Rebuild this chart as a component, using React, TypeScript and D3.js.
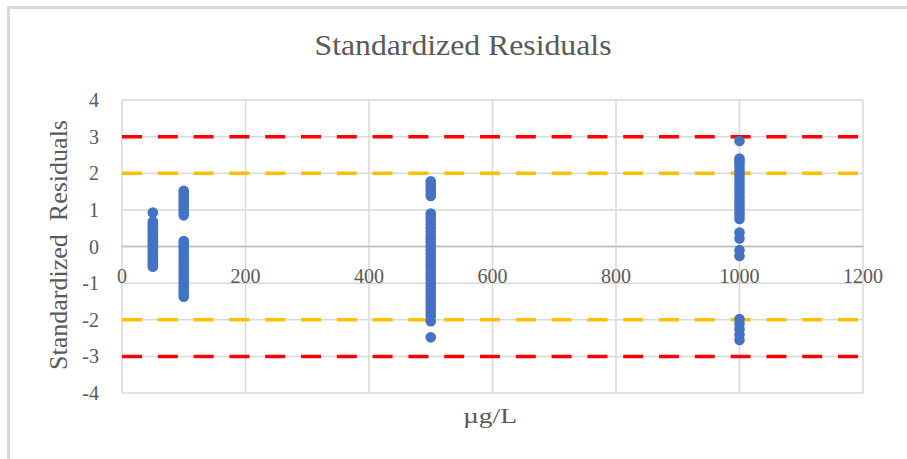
import React from "react";
import * as d3 from "d3";

// concentration levels (µg/L) and their standardized residuals
const levels = [50, 100, 500, 1000];
const res50 = [0.93, 0.68, 0.63, 0.58, 0.52, 0.47, 0.43, 0.37, 0.33, 0.27, 0.21, 0.17, 0.12, 0.06, 0.02, -0.04, -0.08, -0.14, -0.19, -0.23, -0.29, -0.34, -0.38, -0.44, -0.49, -0.55];
const res100 = [1.52, 1.46, 1.38, 1.31, 1.22, 1.16, 1.08, 1.01, 0.93, 0.85, 0.15, 0.08, 0.01, -0.08, -0.16, -0.25, -0.33, -0.41, -0.5, -0.58, -0.67, -0.74, -0.83, -0.91, -0.98, -1.07, -1.14, -1.22, -1.3, -1.37];
const res500 = [1.78, 1.7, 1.62, 1.54, 1.45, 1.38, 0.9, 0.82, 0.72, 0.61, 0.5, 0.41, 0.3, 0.2, 0.1, 0.01, -0.1, -0.2, -0.31, -0.4, -0.5, -0.6, -0.71, -0.8, -0.9, -1.01, -1.1, -1.2, -1.3, -1.4, -1.5, -1.6, -1.7, -1.8, -1.9, -2.04, -2.48];
const res1000 = [2.88, 2.4, 2.33, 2.25, 2.15, 2.05, 1.95, 1.86, 1.75, 1.65, 1.55, 1.46, 1.35, 1.25, 1.15, 1.05, 0.95, 0.86, 0.75, 0.38, 0.22, -0.1, -0.26, -1.98, -2.1, -2.25, -2.4, -2.55];
const residuals = [res50, res100, res500, res1000];

const xTicks = [0, 200, 400, 600, 800, 1000, 1200];
const yTicks = [4, 3, 2, 1, 0, -1, -2, -3, -4];
const limits = [
  {value: 3, color: "#FF0000"},
  {value: 2, color: "#FFC000"},
  {value: -2, color: "#FFC000"},
  {value: -3, color: "#FF0000"},
];

export default function App() {
  const width = 907;
  const height = 459;
  const plot = {left: 122, right: 863, top: 100, bottom: 393};
  const font = "'Liberation Serif', 'Times New Roman', serif";
  const textColor = "#595959";
  const grid = "#d9d9d9";

  const x = d3.scaleLinear().domain([0, 1200]).range([plot.left, plot.right]);
  const y = d3.scaleLinear().domain([-4, 4]).range([plot.bottom, plot.top]);

  const points = levels.flatMap((lvl, i) => residuals[i].map(r => ({lvl, r})));

  return (
    <div style={{position: "absolute", left: 0, top: 0}}>
      <svg width={width} height={height} style={{display: "block", background: "#fff"}}>
        {/* outer chart border (cropped) */}
        <path d={`M8.5,459 L8.5,7.5 L907,7.5`} fill="none" stroke={grid} strokeWidth={3} />

        <text x={463} y={55} textAnchor="middle" fontFamily={font} fontSize={30} fill={textColor}
              textLength={297} lengthAdjust="spacingAndGlyphs">Standardized Residuals</text>

        {/* gridlines */}
        {yTicks.map(t => (
          <line key={"gy" + t} x1={plot.left} x2={plot.right} y1={y(t)} y2={y(t)}
                stroke={t === 0 ? "#bfbfbf" : grid} strokeWidth={1.5} />
        ))}
        {xTicks.map(t => (
          <line key={"gx" + t} x1={x(t)} x2={x(t)} y1={plot.top} y2={plot.bottom}
                stroke={grid} strokeWidth={1.5} />
        ))}
        <line x1={plot.left} x2={plot.right} y1={y(0)} y2={y(0)} stroke="#bfbfbf" strokeWidth={1.5} />

        {/* limit lines */}
        {limits.map(l => (
          <line key={"l" + l.value} x1={x(0)} x2={x(1200) - 4} y1={y(l.value)} y2={y(l.value)}
                stroke={l.color} strokeWidth={3.5} strokeDasharray="20 15.8" />
        ))}

        {/* points */}
        {points.map((p, i) => (
          <circle key={i} cx={x(p.lvl)} cy={y(p.r)} r={5.3} fill="#4472C4" />
        ))}

        {/* y tick labels */}
        {yTicks.map(t => (
          <text key={"ty" + t} x={99} y={y(t) + 7} textAnchor="end" fontFamily={font}
                fontSize={20} fill={textColor}>{t}</text>
        ))}
        {/* x tick labels, sitting under the zero line */}
        {xTicks.map(t => (
          <text key={"tx" + t} x={x(t)} y={y(0) + 36} textAnchor="middle" fontFamily={font}
                fontSize={20} fill={textColor}>{t}</text>
        ))}

        <text transform={`translate(67,245) rotate(-90)`} textAnchor="middle" fontFamily={font}
              fontSize={26} fill={textColor} textLength={250} lengthAdjust="spacingAndGlyphs"
              style={{whiteSpace: "pre"}}>Standardized  Residuals</text>
        <text x={490} y={423} textAnchor="middle" fontFamily={font} fontSize={22} fill={textColor}
              textLength={54} lengthAdjust="spacingAndGlyphs">µg/L</text>
      </svg>
    </div>
  );
}
